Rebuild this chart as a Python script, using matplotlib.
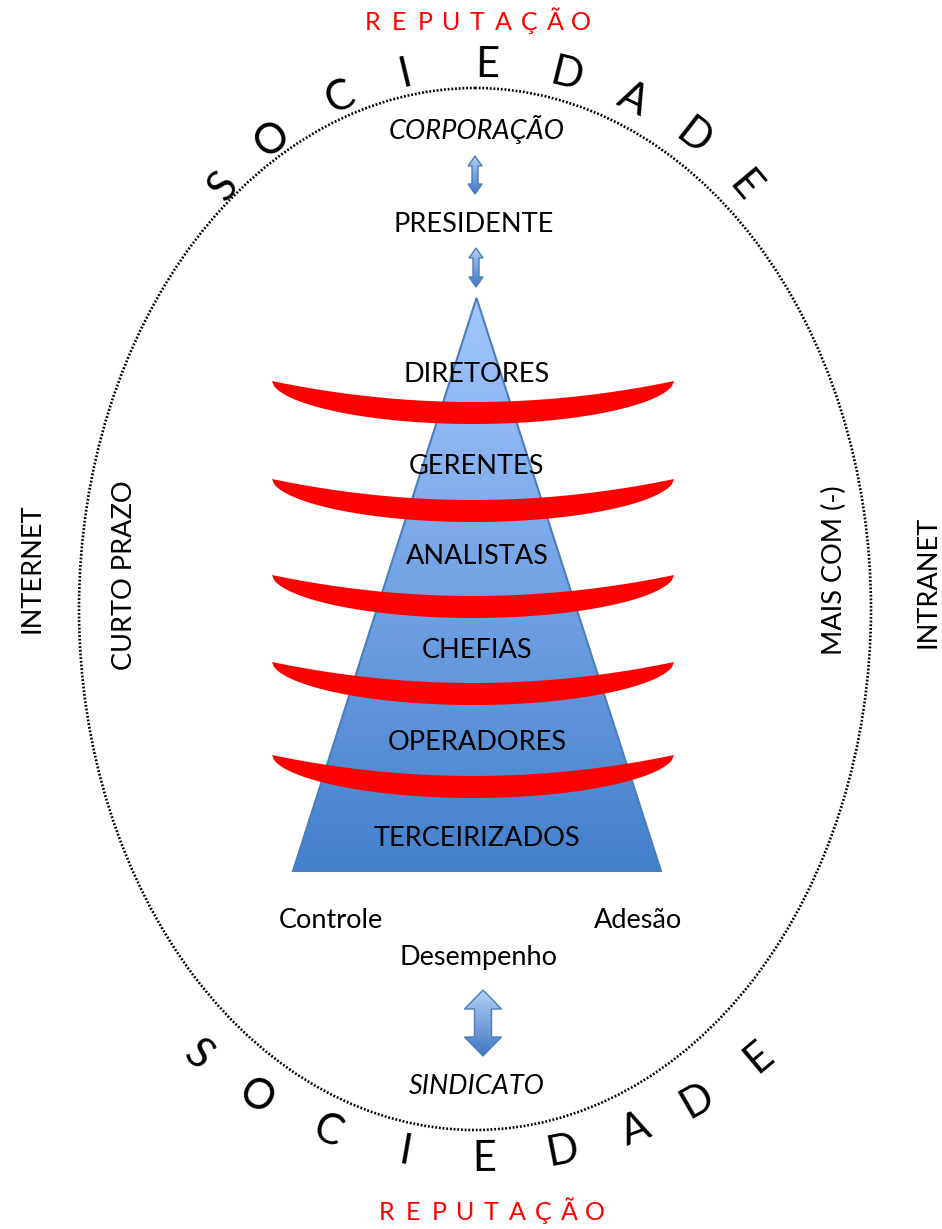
import numpy as np
import matplotlib
matplotlib.use('Agg')
import matplotlib.pyplot as plt
from matplotlib.patches import Polygon, Ellipse
from matplotlib.colors import to_rgb

plt.rcParams['font.family'] = ['Lato', 'DejaVu Sans']

# niveis da piramide, de cima para baixo
niveis = ['DIRETORES', 'GERENTES', 'ANALISTAS', 'CHEFIAS', 'OPERADORES', 'TERCEIRIZADOS']
niveis_y = [374, 467, 557, 650, 742, 838]
# barreiras vermelhas (y das pontas)
barreiras_y = [381, 479, 575, 662, 755]

palavra = 'SOCIEDADE'
# angulos das letras no arco de cima e no de baixo (graus)
ang_cima = [-50, -38.5, -25, -13.5, 0.5, 14, 26, 38, 50]
ang_baixo = [-40.5, -31, -20.5, -10, 0.5, 11, 21, 30, 40]

reputacao = 'REPUTAÇÃO'

laterais = [('INTERNET', 32, 568), ('CURTO PRAZO', 125, 575),
            ('MAIS COM (-)', 834, 570), ('INTRANET', 928, 582)]


def gradiente(c1, c2, n=256):
    a = np.array(to_rgb(c1))
    b = np.array(to_rgb(c2))
    t = np.linspace(0, 1, n)[:, None]
    return (a + (b - a) * t)[:, None, :]


def seta_dupla(ax, x, y0, y1, haste, cabeca, comp):
    h = haste / 2
    c = cabeca / 2
    pts = [(x, y0), (x + c, y0 + comp), (x + h, y0 + comp), (x + h, y1 - comp),
           (x + c, y1 - comp), (x, y1), (x - c, y1 - comp), (x - h, y1 - comp),
           (x - h, y0 + comp), (x - c, y0 + comp)]
    poly = Polygon(pts, closed=True, fc='none', ec='#4a7ebb', lw=1, zorder=4)
    ax.add_patch(poly)
    im = ax.imshow(gradiente('#b4d0f5', '#3f76c4'), extent=(x - c, x + c, y1, y0),
                   aspect='auto', zorder=3)
    im.set_clip_path(poly)


fig = plt.figure(figsize=(9.42, 12.29), dpi=100)
ax = fig.add_axes([0, 0, 1, 1])

# elipse pontilhada
ax.add_patch(Ellipse((475, 609), 792, 1042, fc='none', ec='black', lw=1.9,
                     ls=(0, (0.7, 0.7)), zorder=1))

# piramide com degrade
topo = (476.5, 298)
base_y = 871
base_x = (293, 661)
pir = Polygon([topo, (base_x[1], base_y), (base_x[0], base_y)], closed=True,
              fc='none', ec='#4a7ebb', lw=1.5, zorder=3)
ax.add_patch(pir)
im = ax.imshow(gradiente('#a3c7ff', '#4380cc'), extent=(base_x[0], base_x[1], base_y, topo[1]),
               aspect='auto', zorder=2)
im.set_clip_path(pir)

# barreiras vermelhas
xc, hw = 473, 201
u = np.linspace(-1, 1, 200)
xs = xc + hw * u
for yb in barreiras_y:
    sup = yb + 21 * (1 - u ** 2)
    inf = yb + 43 * (1 - u ** 2) ** 0.55
    ax.fill(np.concatenate([xs, xs[::-1]]), np.concatenate([sup, inf[::-1]]),
            color='#ff0000', lw=0, zorder=5)

for nome, y in zip(niveis, niveis_y):
    ax.text(477, y, nome, ha='center', va='center', fontsize=19.5, zorder=6)

# topo
ax.text(477, 130, 'CORPORAÇÃO', ha='center', va='center', fontsize=19.5, style='italic')
ax.text(474, 224, 'PRESIDENTE', ha='center', va='center', fontsize=19.5)
seta_dupla(ax, 475, 156, 194, 6, 14, 10)
seta_dupla(ax, 476, 248, 287, 6, 14, 10)

# base
ax.text(331, 921, 'Controle', ha='center', va='center', fontsize=19.5)
ax.text(638, 921, 'Adesão', ha='center', va='center', fontsize=19.5)
ax.text(478, 957, 'Desempenho', ha='center', va='center', fontsize=19.5)
seta_dupla(ax, 483, 990, 1056, 17, 37, 19)
ax.text(477, 1087, 'SINDICATO', ha='center', va='center', fontsize=19.5, style='italic')

# SOCIEDADE em arco
for letra, a in zip(palavra, ang_cima):
    t = np.radians(a)
    ax.text(484 + 340 * np.sin(t), 405 - 340 * np.cos(t), letra, rotation=-a,
            ha='center', va='center', fontsize=30, rotation_mode='anchor')
for letra, a in zip(palavra, ang_baixo):
    t = np.radians(a)
    ax.text(480 + 434 * np.sin(t), 725 + 434 * np.cos(t), letra, rotation=a,
            ha='center', va='center', fontsize=30, rotation_mode='anchor')

# REPUTACAO espacada
for i, letra in enumerate(reputacao):
    ax.text(373 + 26 * i, 22, letra, ha='center', va='center', fontsize=18, color='#ff0000')
    ax.text(387 + 26 * i, 1212, letra, ha='center', va='center', fontsize=18, color='#ff0000')

for txt, x, y in laterais:
    ax.text(x, y, txt, rotation=90, ha='center', va='center', fontsize=19.5)

ax.set_xlim(0, 942)
ax.set_ylim(1229, 0)
ax.axis('off')
fig.savefig('out.png', dpi=100)
